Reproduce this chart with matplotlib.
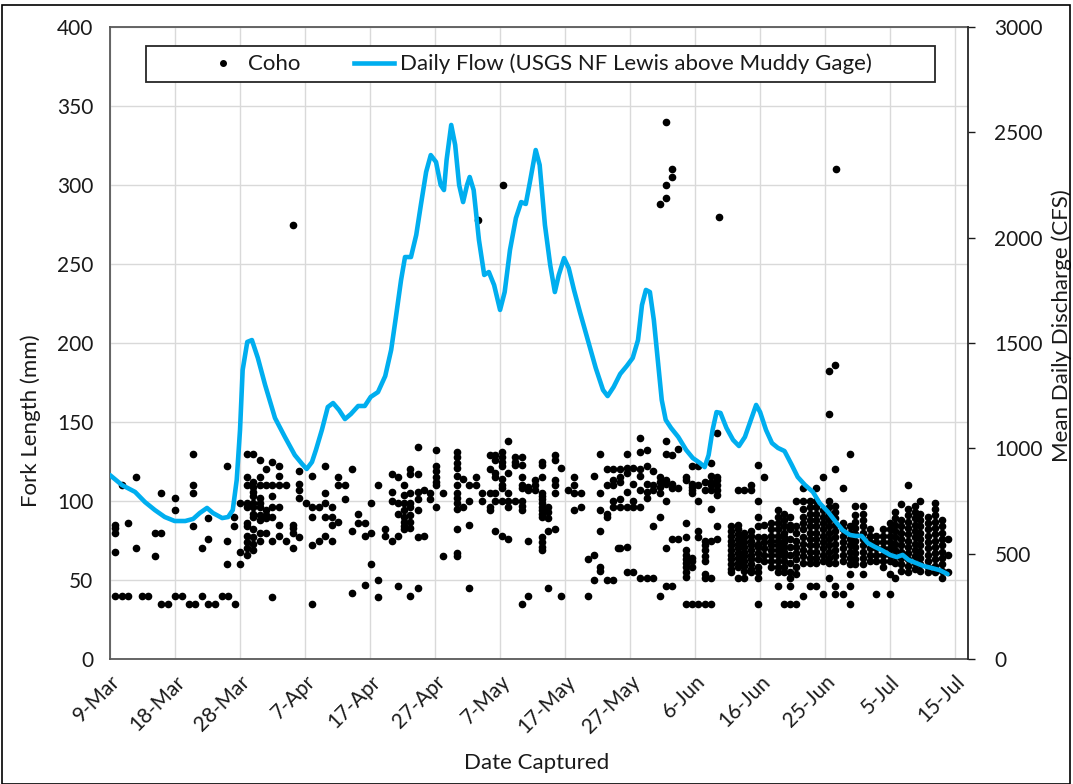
import matplotlib
matplotlib.use("Agg")
import matplotlib.pyplot as plt
from matplotlib.lines import Line2D
from matplotlib.patches import Rectangle

plt.rcParams["font.family"] = ["Lato", "DejaVu Sans"]

# ---- x axis: days since 9-Mar ----
tick_labels = ["9-Mar", "18-Mar", "28-Mar", "7-Apr", "17-Apr", "27-Apr", "7-May",
               "17-May", "27-May", "6-Jun", "16-Jun", "25-Jun", "5-Jul", "15-Jul"]
tick_step = 128 / 13
x_max = 130.0

# ---- daily flow (CFS) ----
flow_days = [0.0, 1.8, 3.8, 5.3, 6.8, 8.3, 9.8, 11.4, 12.6, 13.6, 14.7, 15.6, 17.0, 17.9,
             18.6, 19.2, 19.7, 20.1, 20.8, 21.5, 22.4, 23.5, 25.0, 26.5, 28.0, 29.1, 29.8,
             30.6, 31.2, 32.1, 33.0, 33.8, 34.7, 35.6, 36.5, 37.6, 38.6, 39.5, 40.6, 41.7,
             42.6, 43.3, 44.1, 44.7, 45.6, 46.4, 47.1, 47.9, 48.6, 49.4, 50.1, 50.6, 51.0,
             51.7, 52.3, 52.9, 53.5, 54.1, 54.5, 55.1, 55.9, 56.7, 57.4, 58.2, 59.1, 59.8,
             60.6, 61.5, 62.3, 63.0, 63.6, 64.5, 65.1, 65.9, 66.7, 67.4, 68.0, 68.8, 69.5,
             70.3, 71.2, 72.4, 73.6, 74.7, 75.4, 76.3, 77.3, 78.3, 79.2, 80.0, 80.6, 81.2,
             81.8, 82.4, 83.0, 83.6, 84.2, 85.0, 86.1, 87.3, 88.3, 89.4, 90.1, 90.7, 91.3,
             91.9, 92.5, 93.4, 94.4, 95.3, 96.2, 97.1, 97.9, 98.5, 99.4, 100.3, 101.2,
             102.2, 103.3, 104.2, 105.3, 106.5, 107.5, 108.8, 110.0, 111.0, 112.1, 113.0,
             113.9, 114.8, 115.9, 116.9, 118.2, 119.2, 120.1, 121.0, 122.1, 123.3, 124.5,
             125.7, 126.9]
flow_cfs = [873, 826, 793, 745, 707, 674, 655, 655, 665, 693, 717, 693, 669, 674,
            707, 850, 1087, 1372, 1505, 1514, 1429, 1301, 1144, 1054, 968, 926, 902,
            935, 992, 1087, 1196, 1215, 1182, 1139, 1163, 1201, 1201, 1244, 1267, 1343,
            1467, 1619, 1799, 1908, 1908, 2013, 2155, 2312, 2392, 2359, 2250, 2226, 2369,
            2535, 2440, 2250, 2169, 2250, 2288, 2226, 1989, 1823, 1837, 1775, 1657, 1742,
            1941, 2093, 2169, 2160, 2260, 2416, 2345, 2060, 1870, 1742, 1823, 1903, 1856,
            1752, 1647, 1514, 1381, 1277, 1248, 1291, 1353, 1391, 1429, 1514, 1680, 1752,
            1742, 1609, 1419, 1229, 1135, 1097, 1054, 992, 954, 930, 911, 968, 1087,
            1172, 1168, 1097, 1040, 1011, 1054, 1135, 1206, 1172, 1087, 1025, 1002,
            987, 921, 864, 826, 793, 741, 698, 650, 612, 589, 584,
            584, 551, 532, 517, 494, 484, 494, 470, 456, 441, 432,
            422, 403]

# ---- Coho fork lengths (mm) by capture day ----
capture_days = [0.8, 1.8, 2.8, 3.9, 4.8, 5.8, 6.8, 7.8, 8.8, 9.8, 10.9, 11.9, 12.6, 12.9,
                13.9, 14.9, 15.9, 16.9, 17.7, 17.9, 18.8, 18.9, 19.7,
                20.7, 21.7, 22.7, 23.6, 24.6, 25.6, 26.7, 27.7, 27.8, 28.7, 29.7, 30.6,
                31.6, 32.6, 33.6, 34.6, 35.6, 36.6, 37.6, 38.6, 39.6, 40.6,
                41.7, 42.7, 43.6, 44.6, 45.4, 46.6, 47.5, 48.5, 49.4, 50.5,
                52.5, 53.5, 54.4, 55.5, 55.7, 56.4, 57.5, 58.3, 59.4, 59.5, 60.3, 61.3,
                62.4, 63.4, 64.4, 65.4, 66.4, 67.4, 68.4, 69.4, 70.3, 71.3, 72.4, 73.4,
                74.3, 75.3, 76.2, 77.0, 77.3, 78.3, 79.3, 80.3, 81.3, 82.3, 83.3, 84.2,
                85.2, 86.1, 87.2, 88.2, 89.1, 90.1, 91.1, 91.9, 92.2,
                94.1, 95.1, 96.1, 97.1, 98.2, 99.1, 100.1, 101.2, 102.1,
                103.0, 104.0, 105.0, 106.0, 107.0, 108.0, 109.0, 109.8, 110.0, 111.0,
                112.1, 112.9, 114.1, 115.1, 116.1, 117.1, 118.2, 118.9, 119.9, 120.9,
                121.9, 122.8, 124.0, 125.0, 126.0, 127.0]
fork_lengths = [
    [40, 85, 83, 80, 68], [40, 110], [40, 86], [115, 70], [40], [40], [80, 65],
    [35, 105, 80], [35], [40, 102, 94], [40], [35], [130, 110, 105, 84], [35],
    [40, 70], [35, 89, 76], [35], [40], [122, 75, 60], [40], [90, 84], [35],
    [60, 68, 99],
    [130, 115, 110, 99, 96, 86, 84, 78, 74, 70, 66],
    [130, 112, 109, 106, 103, 99, 96, 92, 90, 82, 77, 73, 69],
    [126, 115, 110, 102, 99, 96, 91, 88, 80, 75],
    [120, 110, 94, 91, 89, 80],
    [125, 110, 103, 96, 90, 75, 39],
    [122, 116, 110, 96, 85, 78],
    [110, 75],
    [85, 83, 80, 70],
    [275],
    [119, 111, 107, 102, 77],
    [99],
    [116, 96, 90, 72, 35],
    [96, 75],
    [122, 105, 99, 90, 78],
    [96, 90, 85, 75],
    [115, 110, 87],
    [110, 101],
    [120, 81, 42],
    [92, 86],
    [86, 78, 47],
    [99, 80, 60],
    [110, 50, 39],
    [82, 78],
    [117, 106, 100, 75],
    [115, 99, 92, 78, 46],
    [110, 104, 99, 94, 90, 87, 84, 82],
    [120, 117, 105, 99, 96, 91, 87, 83, 40],
    [134, 117, 106, 101, 94, 77, 45],
    [107, 78],
    [105, 101],
    [132, 122, 119, 115, 112, 110, 96],
    [105, 65],
    [131, 128, 124, 121, 116, 110, 105, 102, 99, 95, 82, 67, 65],
    [114, 96],
    [110, 100, 85, 45],
    [115, 110],
    [278],
    [105, 100],
    [129, 120, 105, 96, 94],
    [129, 126, 118, 115, 105, 100, 81],
    [131, 128, 125, 122, 114, 110, 108, 100, 78],
    [300],
    [138, 118, 105, 100, 96, 76],
    [128, 125, 123, 100],
    [128, 123, 115, 110, 108, 100, 97, 94, 35],
    [109, 107, 75, 40],
    [113, 110, 107],
    [125, 123, 115, 105, 103, 101, 99, 96, 94, 92, 90, 77, 74, 71, 69],
    [96, 93, 89, 81, 45],
    [129, 126, 113, 110, 105, 82],
    [121, 40],
    [107],
    [115, 110, 105, 94],
    [105, 96],
    [63, 40],
    [116, 66, 50],
    [130, 105, 94, 81, 58, 56],
    [120, 110, 92, 90, 50],
    [120, 113, 110, 100, 96, 50],
    [70],
    [120, 115, 112, 101, 96, 70],
    [130, 121, 118, 106, 96, 71, 55],
    [121, 111, 100, 96, 55],
    [140, 131, 120, 116, 107, 96, 51],
    [132, 122, 111, 106, 102, 51],
    [119, 110, 107, 84, 51],
    [288, 115, 112, 109, 105, 90, 40],
    [340, 300, 292, 138, 130, 113, 111, 100, 70, 46],
    [310, 305, 129, 111, 108, 76, 46],
    [133, 108, 76],
    [115, 113, 86, 77, 69, 66, 63, 61, 58, 55, 52, 35],
    [122, 111, 109, 107, 105, 64, 62, 58, 35],
    [122, 110, 100, 81, 77, 35],
    [112, 107, 75, 72, 69, 65, 62, 54, 51, 35],
    [124, 116, 112, 110, 107, 95, 75, 51, 35],
    [143, 115, 113, 110, 107, 104, 84, 76],
    [280],
    [84, 81, 78, 75, 72, 69, 66, 63, 60, 57, 55],
    [107, 85, 82, 79, 76, 73, 70, 67, 64, 61, 58, 51],
    [107, 80, 77, 74, 71, 68, 65, 62, 59, 56, 51],
    [110, 107, 81, 78, 75, 72, 69, 66, 63, 60, 57, 55],
    [123, 100, 90, 84, 77, 73, 71, 67, 63, 58, 55, 51, 35],
    [115, 85, 77, 74, 70, 66, 62],
    [86, 82, 78, 75, 72, 69, 66, 62, 58],
    [94, 90, 86, 82, 78, 75, 72, 69, 66, 62, 58, 55, 46],
    [92, 88, 84, 80, 77, 74, 71, 68, 65, 62, 58, 55, 35],
    [90, 85, 82, 76, 71, 66, 61, 55, 51, 46, 35],
    [100, 84, 80, 75, 71, 67, 63, 58, 54, 35],
    [108, 100, 95, 90, 86, 82, 77, 73, 69, 65, 61, 40],
    [100, 96, 92, 88, 84, 80, 76, 72, 68, 64, 61, 46],
    [108, 100, 96, 92, 88, 84, 80, 76, 72, 68, 64, 61, 46],
    [115, 94, 90, 86, 82, 78, 74, 70, 66, 62, 41],
    [155, 182, 100, 96, 92, 88, 84, 80, 76, 72, 68, 64, 61, 51],
    [186, 120, 97, 93, 89, 85, 81, 77, 73, 69, 65, 61, 46, 41],
    [310],
    [108, 86, 82, 78, 74, 70, 66, 62, 41],
    [130, 84, 80, 76, 72, 68, 64, 60, 54, 46, 35],
    [97, 91, 87, 83, 79, 75, 71, 67, 63, 60],
    [97, 92, 88, 84, 80, 76, 72, 68, 64, 60, 54],
    [82, 78, 74, 70, 66, 62],
    [78, 74, 70, 66, 62, 41],
    [82, 78, 74, 70, 66, 62, 58],
    [86, 82, 78, 74, 70, 66, 62, 54, 41],
    [93, 89, 85, 81, 77, 73, 69, 65, 61, 51],
    [98, 88, 84, 80, 76, 72, 68, 64, 60, 56],
    [110, 95, 91, 87, 83, 79, 75, 71, 67, 63, 59, 55],
    [97, 93, 89, 85, 81, 77, 73, 69, 65, 61, 57],
    [100, 92, 88, 84, 80, 76, 72, 68, 64, 60, 56],
    [90, 86, 82, 78, 74, 70, 66, 62, 58, 55],
    [99, 95, 91, 87, 83, 79, 75, 71, 67, 63, 59, 55],
    [88, 84, 80, 76, 72, 68, 64, 60, 56, 51],
    [76, 66, 55],
]

pts_x, pts_y = [], []
for d, vals in zip(capture_days, fork_lengths):
    for v in vals:
        pts_x.append(d)
        pts_y.append(v)

TEXT = "#1a1a1a"
BLUE = "#00AEEF"
GRID = "#d9d9d9"
SPINE = "#595959"
FS_TICK = 15
FS_LABEL = 16

fig = plt.figure(figsize=(10.73, 7.84), dpi=100)
ax = fig.add_axes([110 / 1073, 1 - 659 / 784, 858 / 1073, 632 / 784])
ax2 = ax.twinx()

ax.plot(pts_x, pts_y, linestyle="none", marker="o", markersize=4.5,
        color="black", zorder=3)
ax2.plot(flow_days, flow_cfs, color=BLUE, linewidth=3.3, solid_joinstyle="round",
         solid_capstyle="round", zorder=4)

ax.set_xlim(0, x_max)
ax.set_ylim(0, 400)
ax2.set_ylim(0, 3000)
ax.set_xticks([i * tick_step for i in range(len(tick_labels))])
ax.set_xticklabels(tick_labels, rotation=45, ha="right", va="top",
                   rotation_mode="anchor")
ax.set_yticks(range(0, 401, 50))
ax2.set_yticks(range(0, 3001, 500))

ax.grid(True, color=GRID, linewidth=1.0)
ax.set_axisbelow(True)

ax.tick_params(axis="x", length=0, pad=9, labelsize=FS_TICK, labelcolor=TEXT)
ax.tick_params(axis="y", length=0, pad=12, labelsize=FS_TICK, labelcolor=TEXT)
ax2.tick_params(axis="y", length=5, width=1, color=TEXT, direction="out", pad=14,
                labelsize=FS_TICK, labelcolor=TEXT)

for s in ["left", "bottom", "top"]:
    ax.spines[s].set_color(SPINE)
    ax.spines[s].set_linewidth(1.3)
for s in ["left", "bottom", "top"]:
    ax2.spines[s].set_visible(False)
ax.spines["right"].set_visible(False)
ax2.spines["right"].set_color("#262626")
ax2.spines["right"].set_linewidth(1.3)

ax.set_xlabel("Date Captured", fontsize=FS_LABEL, color=TEXT)
ax.xaxis.set_label_coords(0.497, -0.148)
ax.set_ylabel("Fork Length (mm)", fontsize=FS_LABEL, color=TEXT)
ax.yaxis.set_label_coords(-0.08, 0.377)
ax2.set_ylabel("Mean Daily Discharge (CFS)", fontsize=FS_LABEL, color=TEXT, rotation=90)
ax2.yaxis.set_label_coords(1.097, 0.528)

# legend box
x0, x1 = (146 - 110) / 858, (935 - 110) / 858
y1, y0 = (659 - 46) / 632, (659 - 82) / 632
ax2.add_patch(Rectangle((x0, y0), x1 - x0, y1 - y0, transform=ax2.transAxes,
                        facecolor="white", edgecolor="#262626", linewidth=1.3,
                        zorder=10))
handles = [Line2D([], [], linestyle="none", marker="o", markersize=4,
                  color="black"),
           Line2D([], [], color=BLUE, linewidth=3.3)]
leg = ax2.legend(handles, ["Coho", "Daily Flow (USGS NF Lewis above Muddy Gage)"],
                 loc="center", bbox_to_anchor=((x0 + x1) / 2 - 0.004, (y0 + y1) / 2),
                 ncol=2, frameon=False, fontsize=16, handlelength=1.8,
                 handletextpad=0.25, columnspacing=2.4, labelcolor=TEXT)
leg.set_zorder(11)

fig.patches.append(Rectangle((0.0015, 0.0), 0.996, 1 - 5 / 784,
                             transform=fig.transFigure, fill=False,
                             edgecolor="black", linewidth=1.2))

fig.savefig("out.png", dpi=100, facecolor="white")
